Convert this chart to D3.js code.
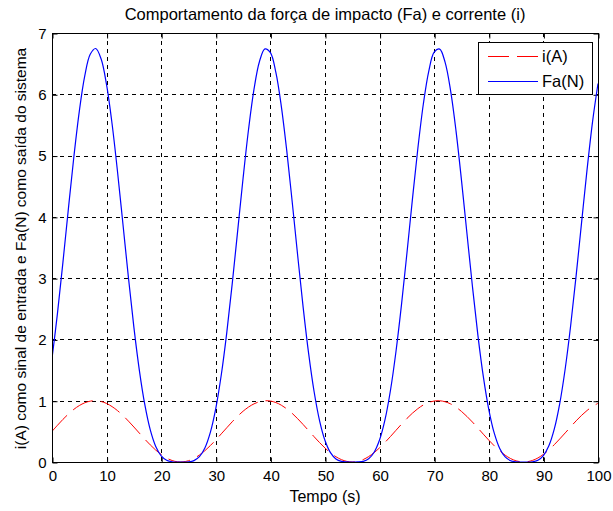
<!DOCTYPE html>
<html>
<head>
<meta charset="utf-8">
<script src="https://cdn.jsdelivr.net/npm/d3@7"></script>
<style>
  html, body { margin: 0; padding: 0; background: #fff; }
  text { font-family: "Liberation Sans", Arial, sans-serif; fill: #000; }
</style>
</head>
<body>
<svg id="chart" width="613" height="511"></svg>
<script>
// ---- data ----
const time = [0,1,2,3,4,5,6,7,8,9,10,11,12,13,14,15,16,17,18,19,20,
  21,22,23,24,25,26,27,28,29,30,31,32,33,34,35,36,37,38,39,40,
  41,42,43,44,45,46,47,48,49,50,51,52,53,54,55,56,57,58,59,60,
  61,62,63,64,65,66,67,68,69,70,71,72,73,74,75,76,77,78,79,80,
  81,82,83,84,85,86,87,88,89,90,91,92,93,94,95,96,97,98,99,100];

const currentA = [0.500,0.599,0.695,0.782,0.859,0.921,0.966,0.993,1.000,0.987,0.955,
  0.904,0.838,0.758,0.667,0.571,0.471,0.372,0.279,0.194,0.122,
  0.064,0.024,0.003,0.002,0.021,0.058,0.114,0.184,0.268,0.360,
  0.459,0.558,0.656,0.747,0.829,0.897,0.949,0.984,0.999,0.995,
  0.970,0.927,0.867,0.793,0.706,0.611,0.512,0.413,0.317,0.228,
  0.150,0.086,0.039,0.010,0.000,0.010,0.040,0.089,0.153,0.232,
  0.321,0.417,0.517,0.616,0.710,0.796,0.870,0.930,0.972,0.995,
  0.999,0.983,0.948,0.894,0.825,0.743,0.652,0.554,0.454,0.356,
  0.264,0.181,0.111,0.056,0.019,0.002,0.004,0.026,0.066,0.125,
  0.198,0.283,0.377,0.475,0.575,0.672,0.762,0.841,0.907,0.957];

const forceN = [1.688,2.424,3.258,4.131,4.977,5.722,6.299,6.652,6.747,6.575,6.152,
  5.519,4.737,3.876,3.008,2.197,1.496,0.935,0.524,0.254,0.100,
  0.028,0.004,0.000,0.000,0.003,0.023,0.087,0.229,0.484,0.876,
  1.419,2.104,2.903,3.767,4.633,5.429,6.084,6.535,6.740,6.679,
  6.356,5.804,5.076,4.239,3.365,2.524,1.772,1.150,0.677,0.351,
  0.152,0.050,0.010,0.001,0.000,0.001,0.011,0.053,0.159,0.362,
  0.695,1.175,1.803,2.559,3.403,4.277,5.111,5.833,6.375,6.687,
  6.737,6.520,6.060,5.400,4.596,3.728,2.868,2.071,1.392,0.856,
  0.470,0.221,0.083,0.021,0.003,0.000,0.000,0.004,0.029,0.105,
  0.264,0.540,0.957,1.525,2.231,3.045,3.915,4.774,5.551,6.175];

const xTicks = [0,10,20,30,40,50,60,70,80,90,100];
const yTicks = [0,1,2,3,4,5,6,7];
const seriesNames = ["i(A)", "Fa(N)"];
const seriesColors = ["#ff0000", "#0000ff"];

const titleText = "Comportamento da força de impacto (Fa) e corrente (i)";
const xLabel = "Tempo (s)";
const yLabel = "i(A) como sinal de entrada e Fa(N) como saída do sistema";

// ---- layout ----
const svg = d3.select("#chart");
const L = 52, R = 598, T = 33, B = 462;

const x = d3.scaleLinear().domain([0, 100]).range([L, R]);
const y = d3.scaleLinear().domain([0, 7]).range([B, T]);

// grid
const grid = svg.append("g");
grid.selectAll("line.gx").data(xTicks.slice(1, -1)).join("line")
  .attr("x1", d => Math.round(x(d)) + 0.5).attr("x2", d => Math.round(x(d)) + 0.5)
  .attr("y1", T).attr("y2", B)
  .attr("stroke", "#000").attr("stroke-width", 1).attr("stroke-dasharray", "4,4");
grid.selectAll("line.gy").data(yTicks.slice(1, -1)).join("line")
  .attr("y1", d => Math.round(y(d)) + 0.5).attr("y2", d => Math.round(y(d)) + 0.5)
  .attr("x1", L).attr("x2", R)
  .attr("stroke", "#000").attr("stroke-width", 1).attr("stroke-dasharray", "4,4");

// axes (ticks inside, MATLAB style)
const fmt = d3.format("d");
const axB = svg.append("g").attr("transform", `translate(0.5,${B + 0.5})`)
  .call(d3.axisBottom(x).tickValues(xTicks).tickFormat(fmt).tickSizeInner(-5).tickSizeOuter(0).tickPadding(8));
const axT = svg.append("g").attr("transform", `translate(0.5,${T + 0.5})`)
  .call(d3.axisTop(x).tickValues(xTicks).tickFormat("").tickSizeInner(-5).tickSizeOuter(0));
const axL = svg.append("g").attr("transform", `translate(${L + 0.5},0.5)`)
  .call(d3.axisLeft(y).tickValues(yTicks).tickFormat(fmt).tickSizeInner(-5).tickSizeOuter(0).tickPadding(6));
const axR = svg.append("g").attr("transform", `translate(${R + 0.5},0.5)`)
  .call(d3.axisRight(y).tickValues(yTicks).tickFormat("").tickSizeInner(-5).tickSizeOuter(0));
[axB, axT, axL, axR].forEach(a => {
  a.select(".domain").remove();
  a.selectAll("line").attr("stroke", "#000");
  a.selectAll("text").style("font-size", "15px").style("font-family", "'Liberation Sans', Arial, sans-serif");
});

// lines
const clipId = "plotclip";
svg.append("clipPath").attr("id", clipId).append("rect")
  .attr("x", L).attr("y", T).attr("width", R - L).attr("height", B - T);

const lineGen = d3.line().x(d => x(d[0])).y(d => y(d[1])).curve(d3.curveCatmullRom.alpha(0.5));
const plot = svg.append("g").attr("clip-path", `url(#${clipId})`);

plot.append("path")
  .datum(time.map((t, k) => [t, currentA[k]]))
  .attr("d", lineGen)
  .attr("fill", "none").attr("stroke", seriesColors[0]).attr("stroke-width", 1)
  .attr("stroke-dasharray", "22,8");

plot.append("path")
  .datum(time.map((t, k) => [t, forceN[k]]))
  .attr("d", lineGen)
  .attr("fill", "none").attr("stroke", seriesColors[1]).attr("stroke-width", 1.2);

// box
svg.append("rect").attr("x", L + 0.5).attr("y", T + 0.5)
  .attr("width", R - L).attr("height", B - T)
  .attr("fill", "none").attr("stroke", "#000").attr("stroke-width", 1);

// legend
const lg = svg.append("g");
lg.append("rect").attr("x", 478.5).attr("y", 42.5).attr("width", 114).attr("height", 52)
  .attr("fill", "#fff").attr("stroke", "#000").attr("stroke-width", 1);
seriesNames.forEach((name, k) => {
  const yy = 56 + k * 25;
  lg.append("line").attr("x1", 488).attr("x2", 538).attr("y1", yy + 0.5).attr("y2", yy + 0.5)
    .attr("stroke", seriesColors[k]).attr("stroke-width", 1)
    .attr("stroke-dasharray", k === 0 ? "21,8" : null);
  lg.append("text").attr("x", 542).attr("y", yy + 6).style("font-size", "16.5px").text(name);
});

// title and labels
svg.append("text").attr("x", (L + R) / 2).attr("y", 20).attr("text-anchor", "middle")
  .style("font-size", "16.5px").text(titleText);
svg.append("text").attr("x", (L + R) / 2).attr("y", 502).attr("text-anchor", "middle")
  .style("font-size", "16px").text(xLabel);
svg.append("text").attr("transform", `translate(26,${(T + B) / 2 + 1}) rotate(-90)`)
  .attr("text-anchor", "middle").style("font-size", "15.5px").text(yLabel);
</script>
</body>
</html>
